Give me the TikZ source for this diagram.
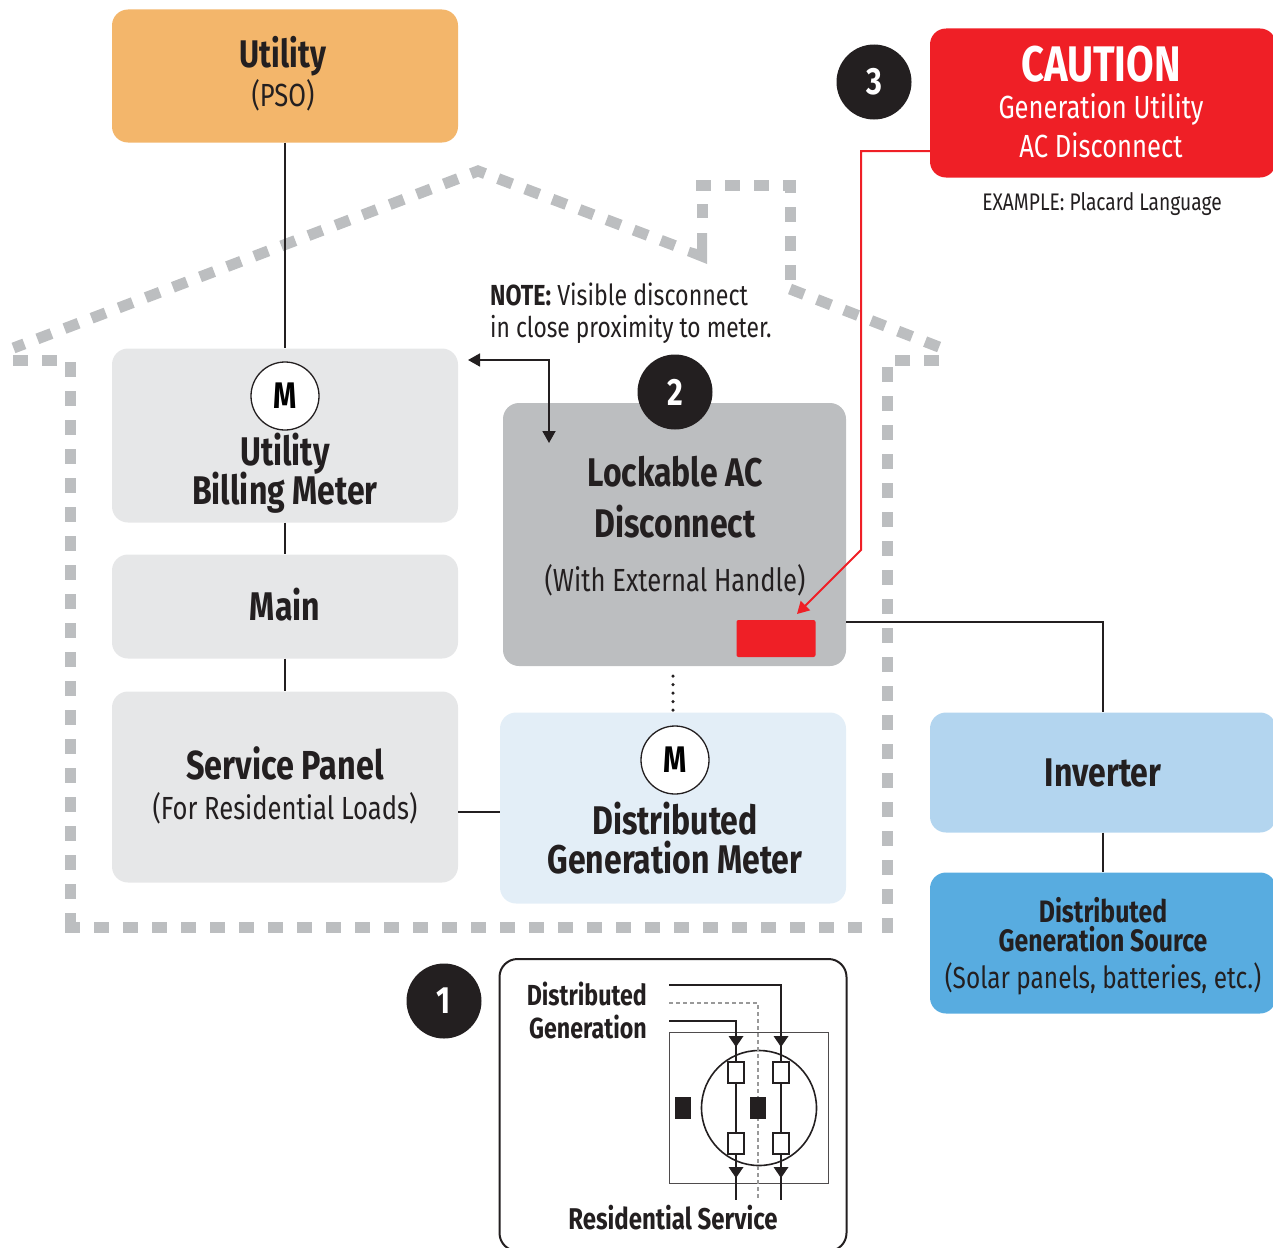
\documentclass[tikz,border=0pt]{standalone}
\usepackage{fontspec}
\setmainfont[FakeStretch=0.8]{Fira Sans}
\usetikzlibrary{arrows.meta, positioning, calc}
\definecolor{inkblack}{HTML}{231F20}
\definecolor{palegrey}{HTML}{E6E7E8}
\definecolor{midgrey}{HTML}{BCBEC0}
\definecolor{cautionred}{HTML}{EF1F26}
\definecolor{utilorange}{HTML}{F3B66B}
\definecolor{paleblue}{HTML}{E3EEF7}
\definecolor{invblue}{HTML}{B3D5EF}
\definecolor{srcblue}{HTML}{58ACE0}
\newcommand{\fs}[1]{\fontsize{#1}{#1}\selectfont}
\begin{document}
\begin{tikzpicture}[x=1pt, y=-1pt, >={Stealth[inset=0pt, length=12pt, width=13pt]}, inner sep=0pt]
\tikzset{
    panel/.style={rectangle, rounded corners=16pt, minimum width=346pt},
    bullet/.style={circle, fill=inkblack, text=white, minimum size=75pt, font=\fs{38}\bfseries},
    meter/.style={circle, draw=inkblack, line width=1.3pt, fill=white, minimum size=68pt, font=\fs{37}\bfseries},
    head/.style={text=inkblack, align=center, font=\fs{40}\bfseries},
    sub/.style={text=inkblack, align=center, font=\fs{32}},
    wire/.style={draw=inkblack, line width=1.8pt},
    redwire/.style={draw=cautionred, line width=2pt},
    house/.style={draw=midgrey, line width=11pt, dash pattern=on 15pt off 14pt, miter limit=10},
    term/.style={rectangle, draw=inkblack, line width=1.3pt, fill=white, minimum width=16pt, minimum height=21pt},
    lug/.style={rectangle, fill=inkblack, minimum width=16pt, minimum height=22pt},
    thin/.style={draw=inkblack!80, line width=0.8pt}
}
\useasboundingbox (0,0) rectangle (1273,1247);

% --- House outline ---
\draw[house, dash phase=3.4] (13.5,348) -- (478,171) -- (683.7,249);
\fill[midgrey] (690,247) -- (697,249) -- (697,233) -- (707,233) -- (707,264) -- (687,256) -- cycle;
\draw[house] (702,218) -- (702,204);
\draw[house] (696,185) -- (790,185) -- (790,281);
\draw[house] (790,289) -- (940,347.4);
\draw[house] (939,360) -- (895,360);
\draw[house] (887.5,367) -- (887.5,933);
\draw[house] (65,927.5) -- (862,927.5);
\draw[house] (70,362) -- (70,928);
\draw[house] (13,360) -- (57,360);

% --- Left column ---
\node (utility) at (285,76) [panel, fill=utilorange, minimum height=133pt] {};
\node (utilityname) at (283,56) [head, font=\fs{38.5}\bfseries] {Utility};
\node (utilitypso) at (283,95) [sub] {(PSO)};

\node (billing) at (285,435.5) [panel, fill=palegrey, minimum height=174pt] {};
\node (billingm) at (285,396) [meter] {M};
\node (billingname) at (285,454) [head] {Utility};
\node (billingname2) at (285,493) [head] {Billing Meter};

\node (main) at (285,606.5) [panel, fill=palegrey, minimum height=104pt] {};
\node (mainname) at (285,605) [head] {Main};

\node (service) at (285,787) [panel, fill=palegrey, minimum height=191pt] {};
\node (servicename) at (285,763) [head, font=\fs{40.5}\bfseries] {Service Panel};
\node (servicesub) at (285,808) [sub] {(For Residential Loads)};

% --- Middle column ---
\node (lockable) at (674.5,534.5) [panel, fill=midgrey, minimum width=343pt, minimum height=263pt] {};
\node (lockname) at (675,472) [head] {Lockable AC};
\node (lockname2) at (675,522) [head] {Disconnect};
\node (locksub) at (675,580) [sub] {(With External Handle)};
\node (handle) at (776,638.5) [rectangle, rounded corners=2pt, fill=cautionred, minimum width=79pt, minimum height=37pt] {};
\node (bullettwo) at (675,392) [bullet] {2};

\node (dgmeter) at (673,808) [panel, fill=paleblue, minimum height=191pt] {};
\node (dgm) at (675,760) [meter] {M};
\node (dgname) at (675,819) [head] {Distributed};
\node (dgname2) at (675,858) [head] {Generation Meter};

\node (note) at (490,294) [anchor=west, text=inkblack, font=\fs{29}] {\textbf{NOTE:} Visible disconnect};
\node (note2) at (490,329) [anchor=west, text=inkblack, font=\fs{28.5}] {in close proximity to meter.};

% --- Right column ---
\node (caution) at (1103,103) [panel, fill=cautionred, minimum height=149pt] {};
\node (cautionname) at (1101,64) [text=white, font=\fs{50}\bfseries] {CAUTION};
\node (cautionsub) at (1101,109) [text=white, font=\fs{32}] {Generation Utility};
\node (cautionsub2) at (1101,145) [text=white, font=\fs{32}] {AC Disconnect};
\node (placard) at (1102,204) [text=inkblack, font=\fs{24}] {EXAMPLE: Placard Language};
\node (bulletthree) at (874,82) [bullet] {3};

\node (inverter) at (1103,772.5) [panel, fill=invblue, minimum height=120pt] {};
\node (invertername) at (1103,773) [head] {Inverter};

\node (source) at (1103,943) [panel, fill=srcblue, minimum height=141pt] {};
\node (sourcename) at (1103,910) [text=inkblack, font=\fs{31}\bfseries] {Distributed};
\node (sourcename2) at (1103,939) [text=inkblack, font=\fs{31}\bfseries] {Generation Source};
\node (sourcesub) at (1103,979) [sub, font=\fs{30.5}] {(Solar panels, batteries, etc.)};

% --- Connectors ---
\draw[wire] (utility) -- (billing);
\draw[wire] (billing) -- (main);
\draw[wire] (main) -- (service);
\draw[wire] ([yshift=-25pt]service.east) -- ([yshift=-4pt]dgmeter.west);
\draw[draw=inkblack, line width=3.5pt, line cap=round, dash pattern=on 0pt off 8.5pt, shorten <=10pt, shorten >=2pt] ([xshift=-1.5pt]lockable.south) -- ([xshift=0pt]dgmeter.north);
\draw[wire] ([yshift=-87.5pt]lockable.east) -| (inverter);
\draw[wire] (inverter) -- (source);

\coordinate (noteleft) at (468,360);
\coordinate (notecorner) at (549,360);
\coordinate (notedown) at (549,443);
\draw[wire, <->] (noteleft) -- (notecorner) -- (notedown);

\coordinate (redtop) at (861,151);
\coordinate (redbend) at (861,550);
\coordinate (redtip) at (797,614);
\draw[redwire, ->] (caution.west |- redtop) -- (redtop) -- (redbend) -- (redtip);

% --- Service inset ---
\node (inset) at (673,1105) [rectangle, rounded corners=18pt, draw=inkblack, line width=2pt, minimum width=347pt, minimum height=292pt] {};
\node (bulletone) at (444,1001) [bullet] {1};
\node (insetdg) at (647,994) [anchor=east, text=inkblack, font=\fs{29}\bfseries] {Distributed};
\node (insetdg2) at (647,1027) [anchor=east, text=inkblack, font=\fs{29}\bfseries] {Generation};
\node (insetres) at (673,1218) [text=inkblack, font=\fs{30}\bfseries] {Residential Service};
\node (cabinet) at (748.5,1107.5) [rectangle, thin, minimum width=159pt, minimum height=151pt] {};
\node (dial) at (759,1108) [circle, draw=inkblack, line width=1.6pt, minimum size=115pt] {};

\coordinate (hotin) at (669,985);
\coordinate (hotcorner) at (781,985);
\coordinate (hotout) at (781,1200);
\coordinate (neuin) at (669,1003);
\coordinate (neucorner) at (758,1003);
\coordinate (neuout) at (758,1200);
\coordinate (lowin) at (669,1021);
\coordinate (lowcorner) at (736,1021);
\coordinate (lowout) at (736,1200);
\draw[draw=gray!80, line width=1.2pt, dash pattern=on 4pt off 3pt] (neuin) -- (neucorner) -- (neuout);
\draw[wire] (hotin) -- (hotcorner) -- (hotout);
\draw[wire] (lowin) -- (lowcorner) -- (lowout);
\foreach \x in {736,781} {
    \fill[inkblack] (\x-7.5,1036) -- (\x+7.5,1036) -- (\x,1047) -- cycle;
    \fill[inkblack] (\x-7.5,1167) -- (\x+7.5,1167) -- (\x,1178) -- cycle;
}
\node (termone) at (736,1072.5) [term] {};
\node (termtwo) at (781,1072.5) [term] {};
\node (termthree) at (736,1143.5) [term] {};
\node (termfour) at (781,1143.5) [term] {};
\node (lugleft) at (683,1108) [lug] {};
\node (lugmid) at (758,1108) [lug] {};

\end{tikzpicture}
\end{document}
